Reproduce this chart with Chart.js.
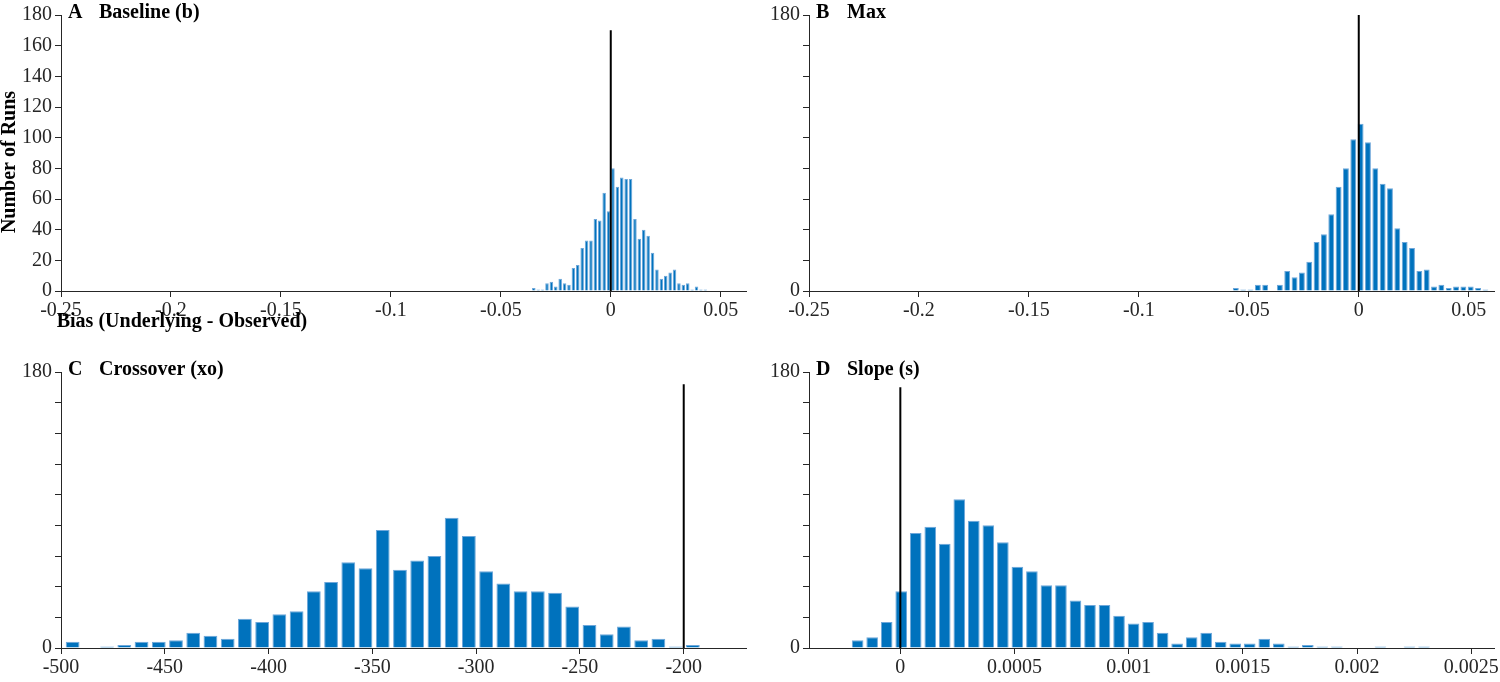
<!DOCTYPE html>
<html>
<head>
<meta charset="utf-8">
<script src="https://cdn.jsdelivr.net/npm/chart.js@4.4.0/dist/chart.umd.min.js"></script>
<style>
  html, body { margin: 0; padding: 0; background: #fff; }
  #wrap { position: relative; width: 1500px; height: 682px; overflow: hidden; }
  .panel { position: absolute; }
</style>
</head>
<body>
<div id="wrap">
  <canvas class="panel" id="chartA" width="750" height="341" style="left:0;top:0"></canvas>
  <canvas class="panel" id="chartB" width="752" height="341" style="left:748px;top:0"></canvas>
  <canvas class="panel" id="chartC" width="750" height="341" style="left:0;top:341px"></canvas>
  <canvas class="panel" id="chartD" width="752" height="341" style="left:748px;top:341px"></canvas>
</div>
<script>
// histogram counts (left bin to right bin)
const baselineCounts = [2, 1, 1, 5, 6, 3, 8, 5, 4, 15, 17, 28, 33, 33, 47, 46, 64, 52,
  80, 68, 74, 73, 73, 47, 34, 40, 36, 25, 14, 8, 10, 12, 14, 5, 4, 5, 1, 3, 1, 1];
const maxCounts = [2, 1, 1, 4, 4, 0, 4, 13, 9, 12, 19, 32, 37, 50, 68, 80, 99,
  109, 97, 80, 70, 67, 41, 32, 28, 13, 14, 3, 4, 2, 3, 3, 3, 2, 1];
const crossoverCounts = [4, 0, 1, 2, 4, 4, 5, 10, 8, 6, 19, 17, 22, 24, 37, 43, 56, 52, 77,
  51, 57, 60, 85, 73, 50, 42, 37, 37, 36, 27, 15, 9, 14, 5, 6, 1, 2];
const slopeCounts = [5, 7, 17, 37, 75, 79, 68, 97, 83, 80, 69, 53, 50, 41, 41, 31, 28, 28, 21, 16,
  17, 10, 3, 7, 10, 4, 3, 3, 6, 3, 1, 2, 1, 1, 0, 0, 1, 0, 1, 1];

// bin layout: centre of the first bin and bin width
const baselineBins = { first: -0.035, width: 0.002 };
const maxBins = { first: -0.0559, width: 0.003338 };
const crossoverBins = { first: -494.4, width: 8.3 };
const slopeBins = { first: -0.000187, width: 0.0000636 };

// true value (vertical line) and its drawn height
const baselineTrue = [0, 170];
const maxTrue = [0, 180];
const crossoverTrue = [-200, 172];
const slopeTrue = [0, 170];

// tick labels
const biasTicks = [-0.25, -0.2, -0.15, -0.1, -0.05, 0, 0.05];
const crossoverTicks = [-500, -450, -400, -350, -300, -250, -200];
const slopeTicks = [0, 0.0005, 0.001, 0.0015, 0.002, 0.0025];
const countTicks = [0, 20, 40, 60, 80, 100, 120, 140, 160, 180];
const countEnds = [0, 180];

const SERIF = '"Liberation Serif", "Times New Roman", serif';
const INK = '#262626';
Chart.defaults.font.family = SERIF;
Chart.defaults.font.size = 20;
Chart.defaults.color = INK;

// panel letters, titles and the axis captions of panel A
const panelText = {
  id: 'panelText',
  afterDraw(chart, args, opts) {
    const ctx = chart.ctx;
    const area = chart.chartArea;
    ctx.save();
    ctx.fillStyle = '#000';
    ctx.font = 'bold 20px ' + SERIF;
    ctx.textBaseline = 'alphabetic';
    ctx.textAlign = 'left';
    ctx.fillText(opts.letter, area.left + 7, area.top + 3);
    ctx.fillText(opts.title, area.left + 38, area.top + 3);
    if (opts.xTitle) {
      ctx.textAlign = 'center';
      ctx.fillText(opts.xTitle, 182, 327);
    }
    if (opts.yTitle) {
      ctx.translate(15, 162);
      ctx.rotate(-Math.PI / 2);
      ctx.textAlign = 'center';
      ctx.fillText(opts.yTitle, 0, 0);
    }
    ctx.restore();
  }
};

function makePanel(id, o) {
  const bars = o.counts.map((c, i) => ({ x: o.bins.first + i * o.bins.width, y: c }));
  const axisGrid = { display: true, drawOnChartArea: false, drawTicks: true, tickLength: 6, color: INK, lineWidth: 1 };
  return new Chart(document.getElementById(id), {
    type: 'bar',
    data: {
      datasets: [
        {
          type: 'line',
          data: [{ x: o.truth[0], y: 0 }, { x: o.truth[0], y: o.truth[1] }],
          borderColor: '#000',
          borderWidth: 2,
          pointRadius: 0,
          order: 0
        },
        {
          type: 'bar',
          data: bars,
          backgroundColor: '#0072bd',
          borderColor: '#6ea7da',
          borderWidth: 1,
          barPercentage: 0.8,
          categoryPercentage: 1,
          order: 1
        }
      ]
    },
    options: {
      responsive: false,
      animation: false,
      layout: { padding: o.padding },
      plugins: {
        legend: { display: false },
        tooltip: { enabled: false },
        panelText: o.text
      },
      scales: {
        x: {
          type: 'linear',
          min: o.xMin,
          max: o.xMax,
          offset: false,
          grid: Object.assign({ offset: false }, axisGrid),
          border: { display: true, color: INK, width: 1 },
          ticks: { autoSkip: false, maxRotation: 0, padding: 2, callback: v => String(v) },
          afterBuildTicks: s => { s.ticks = o.xTicks.map(v => ({ value: v })); },
          afterFit: s => { s.height = o.xHeight; s.paddingLeft = 0; s.paddingRight = 0; }
        },
        y: {
          min: 0,
          max: 180,
          grid: axisGrid,
          border: { display: true, color: INK, width: 1 },
          ticks: {
            padding: 3,
            callback: v => (o.yLabels.includes(v) ? String(v) : '')
          },
          afterBuildTicks: s => { s.ticks = countTicks.map(v => ({ value: v })); },
          afterFit: s => { s.width = 61; s.paddingTop = 0; s.paddingBottom = 0; }
        }
      }
    },
    plugins: [panelText]
  });
}

makePanel('chartA', {
  counts: baselineCounts, bins: baselineBins, truth: baselineTrue,
  xMin: -0.25, xMax: 0.0615, xTicks: biasTicks, yLabels: countTicks,
  padding: { top: 15, right: 4, left: 0, bottom: 0 }, xHeight: 50,
  text: { letter: 'A', title: 'Baseline (b)', xTitle: 'Bias (Underlying - Observed)', yTitle: 'Number of Runs' }
});
makePanel('chartB', {
  counts: maxCounts, bins: maxBins, truth: maxTrue,
  xMin: -0.25, xMax: 0.0615, xTicks: biasTicks, yLabels: countEnds,
  padding: { top: 15, right: 6, left: 0, bottom: 0 }, xHeight: 50,
  text: { letter: 'B', title: 'Max' }
});
makePanel('chartC', {
  counts: crossoverCounts, bins: crossoverBins, truth: crossoverTrue,
  xMin: -500, xMax: -170, xTicks: crossoverTicks, yLabels: countEnds,
  padding: { top: 31, right: 4, left: 0, bottom: 0 }, xHeight: 34,
  text: { letter: 'C', title: 'Crossover (xo)' }
});
makePanel('chartD', {
  counts: slopeCounts, bins: slopeBins, truth: slopeTrue,
  xMin: -0.0004, xMax: 0.0026, xTicks: slopeTicks, yLabels: countEnds,
  padding: { top: 31, right: 6, left: 0, bottom: 0 }, xHeight: 34,
  text: { letter: 'D', title: 'Slope (s)' }
});
</script>
</body>
</html>
